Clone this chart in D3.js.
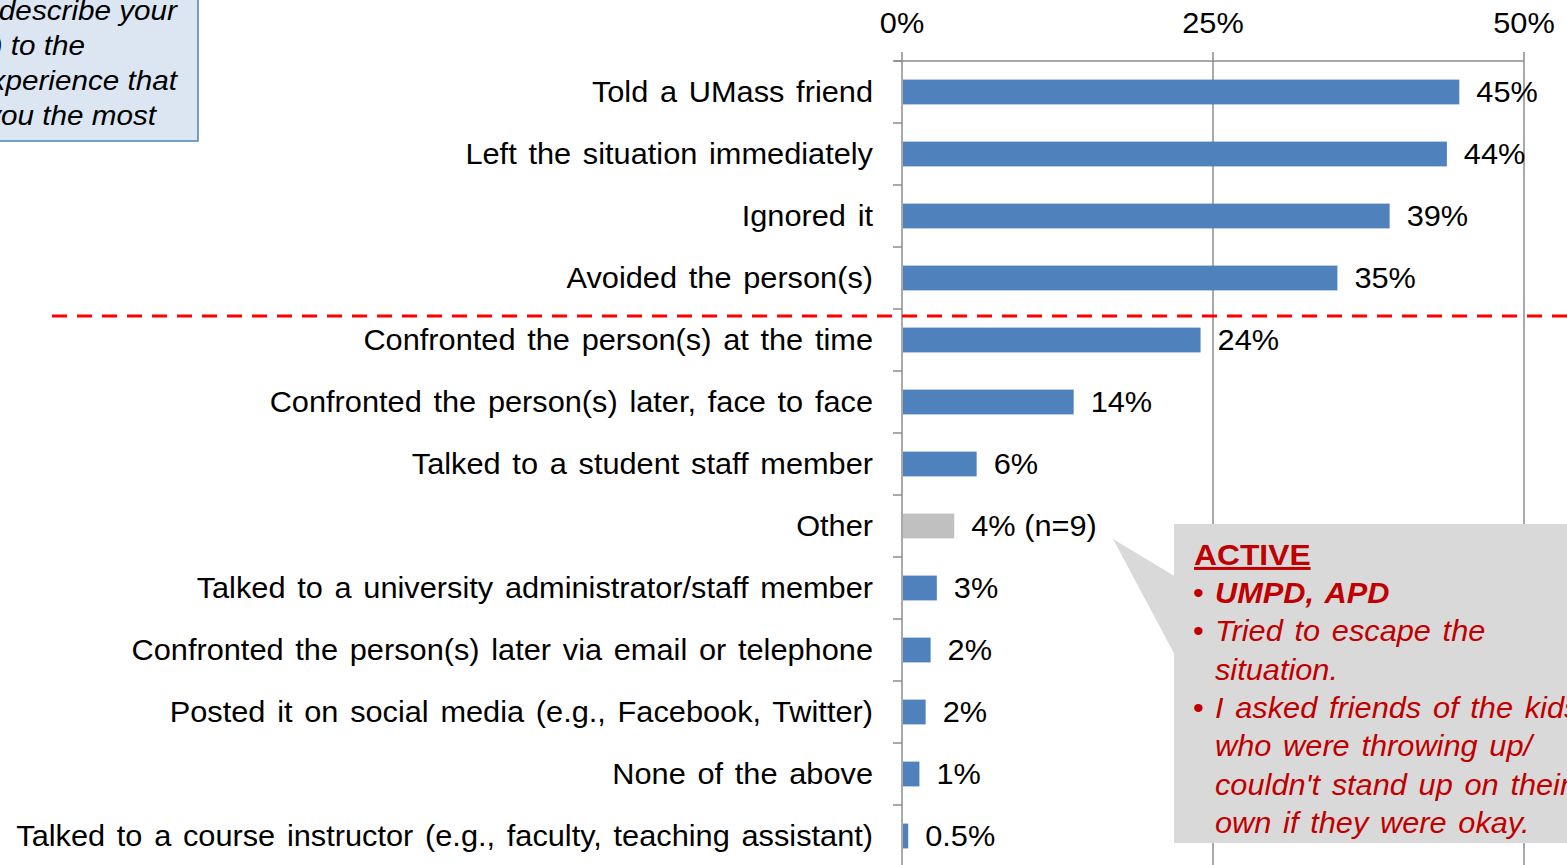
<!DOCTYPE html>
<html>
<head>
<meta charset="utf-8">
<script src="https://cdn.jsdelivr.net/npm/d3@7"></script>
<style>
  body { margin: 0; background: #fff; }
  svg { display: block; font-family: "Liberation Sans", Arial, sans-serif; }
</style>
</head>
<body>
<div id="chart"></div>
<script>
var categories = [
  'Told a UMass friend',
  'Left the situation immediately',
  'Ignored it',
  'Avoided the person(s)',
  'Confronted the person(s) at the time',
  'Confronted the person(s) later, face to face',
  'Talked to a student staff member',
  'Other',
  'Talked to a university administrator/staff member',
  'Confronted the person(s) later via email or telephone',
  'Posted it on social media (e.g., Facebook, Twitter)',
  'None of the above',
  'Talked to a course instructor (e.g., faculty, teaching assistant)'
];
var values = [44.8, 43.8, 39.2, 35.0, 24.0, 13.8, 6.0, 4.2, 2.8, 2.3, 1.9, 1.4, 0.5];
var valueLabels = ['45%', '44%', '39%', '35%', '24%', '14%', '6%', '4% (n=9)', '3%', '2%', '2%', '1%', '0.5%'];
var tickValues = [0, 25, 50];

var noteLines = ['Which best describe your', 'reaction(s) to the', 'experience that', 'affected you the most'];
var noteEnds = [177, 85, 177, 156];

var calloutTitle = 'ACTIVE';
var calloutItems = [
  { lines: ['UMPD, APD'], bold: true },
  { lines: ['Tried to escape the', 'situation.'], bold: false },
  { lines: ['I asked friends of the kids', 'who were throwing up/', "couldn't stand up on their", 'own if they were okay.'], bold: false }
];

var W = 1567, H = 865,
    FONT = 29,
    STRETCH = 1.06, // source text is a little wider than the font
    BLUE = '#4f81bd',
    GREY_BAR = '#c0c0c0',
    AXIS = '#8c8c8c',
    RED_TXT = '#c00000';

var svg = d3.select('#chart').append('svg')
  .attr('width', W)
  .attr('height', H);

var x = d3.scaleLinear().domain([0, 50]).range([902, 1524]);
var y = d3.scaleBand().domain(categories).range([61, 867])
  .paddingInner(0.6).paddingOuter(0.3);

// place a text at (px, py), stretched horizontally
var placeText = function (sel, px, py) {
  sel.attr('x', 0).attr('y', 0)
    .attr('transform', function(d, i) {
      var tx = typeof px === 'function' ? px(d, i) : px,
          ty = typeof py === 'function' ? py(d, i) : py;
      return 'translate(' + tx + ',' + ty + ') scale(' + STRETCH + ',1)';
    });
  return sel;
};

// top-left note box
svg.append('rect')
  .attr('x', -20).attr('y', -20)
  .attr('width', 218).attr('height', 161)
  .attr('fill', '#dce6f2')
  .attr('stroke', '#4f81bd')
  .attr('stroke-width', 1.5);

svg.selectAll('text.note')
  .data(noteLines)
  .enter().append('text')
  .attr('class', 'note')
  .call(placeText, function(d, i) { return noteEnds[i]; }, function(d, i) { return 20 + i * 35; })
  .attr('text-anchor', 'end')
  .attr('font-size', 28)
  .attr('font-style', 'italic')
  .attr('fill', '#000')
  .text(function(d) { return d; });

// gridlines
svg.selectAll('line.grid')
  .data(tickValues)
  .enter().append('line')
  .attr('class', 'grid')
  .attr('x1', function(d) { return x(d); })
  .attr('x2', function(d) { return x(d); })
  .attr('y1', 52)
  .attr('y2', H)
  .attr('stroke', AXIS)
  .attr('stroke-width', 1.5);

// top axis line
svg.append('line')
  .attr('x1', 894).attr('x2', x(50))
  .attr('y1', 61).attr('y2', 61)
  .attr('stroke', AXIS)
  .attr('stroke-width', 1.5);

svg.selectAll('text.tick')
  .data(tickValues)
  .enter().append('text')
  .attr('class', 'tick')
  .call(placeText, function(d) { return x(d); }, 33)
  .attr('text-anchor', 'middle')
  .attr('font-size', FONT)
  .attr('fill', '#000')
  .text(function(d) { return d + '%'; });

// left axis tick marks at band boundaries
var step = y.step();
var bounds = categories.map(function(c) { return y(c) - step * 0.3; });
svg.selectAll('line.ytick')
  .data(bounds)
  .enter().append('line')
  .attr('class', 'ytick')
  .attr('x1', 893).attr('x2', 902)
  .attr('y1', function(d) { return d; })
  .attr('y2', function(d) { return d; })
  .attr('stroke', AXIS)
  .attr('stroke-width', 1.5);

// bars
svg.selectAll('rect.bar')
  .data(values)
  .enter().append('rect')
  .attr('class', 'bar')
  .attr('x', x(0) + 1)
  .attr('y', function(d, i) { return y(categories[i]); })
  .attr('width', function(d) { return x(d) - x(0) - 1; })
  .attr('height', y.bandwidth())
  .attr('fill', function(d, i) { return categories[i] === 'Other' ? GREY_BAR : BLUE; });

// category labels
svg.selectAll('text.cat')
  .data(categories)
  .enter().append('text')
  .attr('class', 'cat')
  .call(placeText, 873, function(d) { return y(d) + y.bandwidth() / 2 + 10; })
  .attr('text-anchor', 'end')
  .attr('font-size', FONT)
  .attr('word-spacing', 3)
  .attr('fill', '#000')
  .text(function(d) { return d; });

// value labels
svg.selectAll('text.val')
  .data(values)
  .enter().append('text')
  .attr('class', 'val')
  .call(placeText, function(d) { return x(d) + 17; },
        function(d, i) { return y(categories[i]) + y.bandwidth() / 2 + 10; })
  .attr('font-size', FONT)
  .attr('fill', '#000')
  .text(function(d, i) { return valueLabels[i]; });

// red dashed divider between 4th and 5th categories
var divY = y(categories[4]) - step * 0.3 + 7;
svg.append('line')
  .attr('x1', 52).attr('x2', W)
  .attr('y1', divY).attr('y2', divY)
  .attr('stroke', '#ff0000')
  .attr('stroke-width', 3)
  .attr('stroke-dasharray', '15,10');

// callout
var callout = svg.append('g');
callout.append('path')
  .attr('d', 'M1113,539 L1176,577 L1176,657 Z')
  .attr('fill', '#d9d9d9');
callout.append('rect')
  .attr('x', 1174).attr('y', 524)
  .attr('width', W - 1174).attr('height', 319)
  .attr('fill', '#d9d9d9');

callout.append('text')
  .call(placeText, 1194, 565)
  .attr('font-size', 30)
  .attr('font-weight', 'bold')
  .attr('text-decoration', 'underline')
  .attr('fill', RED_TXT)
  .text(calloutTitle);

var lineY = 603;
calloutItems.forEach(function(item) {
  callout.append('text')
    .call(placeText, 1193, lineY)
    .attr('font-size', FONT)
    .attr('fill', RED_TXT)
    .text('\u2022');
  item.lines.forEach(function(l) {
    callout.append('text')
      .call(placeText, 1215, lineY)
      .attr('font-size', FONT)
      .attr('font-style', 'italic')
      .attr('font-weight', item.bold ? 'bold' : 'normal')
      .attr('word-spacing', 3)
      .attr('fill', RED_TXT)
      .text(l);
    lineY += 38.3;
  });
});
</script>
</body>
</html>
